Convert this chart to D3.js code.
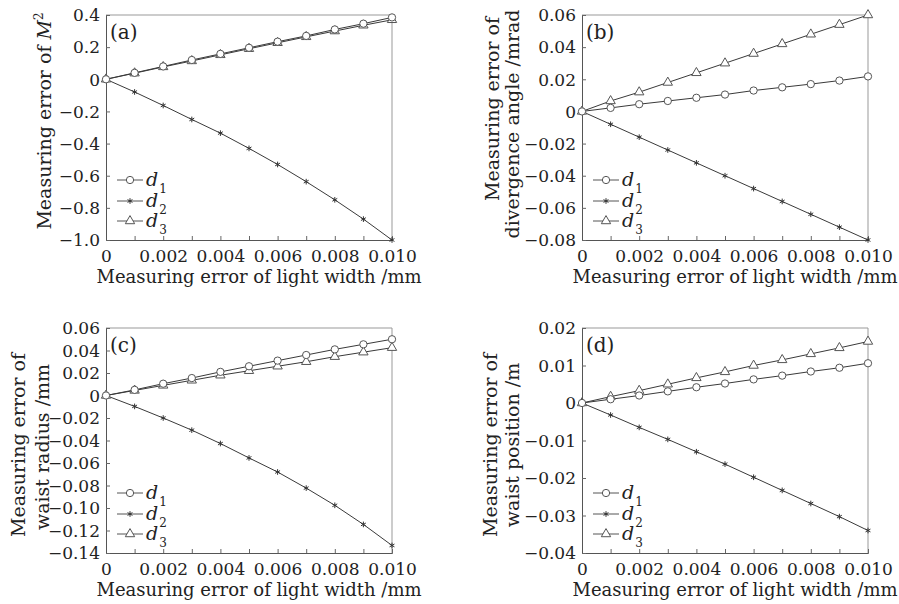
<!DOCTYPE html>
<html>
<head>
<meta charset="utf-8">
<script src="https://cdn.jsdelivr.net/npm/d3@7"></script>
<style>
  body { margin: 0; background: #fff; }
</style>
</head>
<body>
<div id="chart"></div>
<script>
// eje x común
const xVals = [0, 0.001, 0.002, 0.003, 0.004, 0.005, 0.006, 0.007, 0.008, 0.009, 0.010];
const xTickLabels = [0, 0.002, 0.004, 0.006, 0.008, 0.010];

// (a) M^2
const aD1 = [0, 0.040, 0.080, 0.120, 0.158, 0.196, 0.234, 0.270, 0.310, 0.346, 0.385];
const aD2 = [0, -0.079, -0.163, -0.250, -0.335, -0.430, -0.530, -0.637, -0.750, -0.870, -1.0];
const aD3 = [0, 0.038, 0.077, 0.114, 0.152, 0.190, 0.227, 0.264, 0.300, 0.336, 0.370];
const aTicks = [0.4, 0.2, 0, -0.2, -0.4, -0.6, -0.8, -1.0];

// (b) ángulo de divergencia
const bD1 = [0, 0.0022, 0.0045, 0.0065, 0.0085, 0.0105, 0.013, 0.015, 0.017, 0.0192, 0.0218];
const bD2 = [0, -0.008, -0.016, -0.024, -0.032, -0.040, -0.048, -0.056, -0.064, -0.072, -0.080];
const bD3 = [0, 0.0065, 0.012, 0.018, 0.024, 0.030, 0.036, 0.042, 0.048, 0.054, 0.060];
const bTicks = [0.06, 0.04, 0.02, 0, -0.02, -0.04, -0.06, -0.08];

// (c) radio de cintura
const cD1 = [0, 0.005, 0.0105, 0.0155, 0.021, 0.026, 0.031, 0.036, 0.041, 0.0455, 0.050];
const cD2 = [0, -0.0097, -0.020, -0.0308, -0.0427, -0.0555, -0.068, -0.0823, -0.0976, -0.1146, -0.1333];
const cD3 = [0, 0.0045, 0.009, 0.0135, 0.018, 0.022, 0.026, 0.030, 0.0345, 0.0385, 0.0425];
const cTicks = [0.06, 0.04, 0.02, 0, -0.02, -0.04, -0.06, -0.08, -0.10, -0.12, -0.14];

// (d) posición de cintura
const dD1 = [0, 0.0010, 0.0020, 0.0031, 0.0042, 0.0052, 0.0063, 0.0073, 0.0084, 0.0094, 0.0106];
const dD2 = [0, -0.0032, -0.0065, -0.0097, -0.0130, -0.0163, -0.0198, -0.0233, -0.0268, -0.0303, -0.0340];
const dD3 = [0, 0.0017, 0.0033, 0.0050, 0.0067, 0.0083, 0.0100, 0.0115, 0.0131, 0.0147, 0.0164];
const dTicks = [0.02, 0.01, 0, -0.01, -0.02, -0.03, -0.04];

const paneles = [
    { id: "(a)", left: 106, top: 15, d1: aD1, d2: aD2, d3: aD3, ticks: aTicks, fmt: ".1f",
      titulo: [["Measuring error of ", "M2"]], tx: [51], ty: [121] },
    { id: "(b)", left: 582, top: 15, d1: bD1, d2: bD2, d3: bD3, ticks: bTicks, fmt: ".2f",
      titulo: [["Measuring error of"], ["divergence angle /mrad"]], tx: [499, 519], ty: [109, 124] },
    { id: "(c)", left: 106, top: 328, d1: cD1, d2: cD2, d3: cD3, ticks: cTicks, fmt: ".2f",
      titulo: [["Measuring error of"], ["waist radius /mm"]], tx: [25, 49], ty: [445, 447] },
    { id: "(d)", left: 582, top: 328, d1: dD1, d2: dD2, d3: dD3, ticks: dTicks, fmt: ".2f",
      titulo: [["Measuring error of"], ["waist position /m"]], tx: [497, 519], ty: [445, 445] }
];

const W = 286, H = 225;
const FUENTE = "'DejaVu Serif', serif";

const svg = d3.select("#chart").append("svg")
    .attr("width", 899)
    .attr("height", 604)
    .style("font-family", FUENTE);

paneles.forEach(p => dibujarPanel(p));

function dibujarPanel(p) {
    const g = svg.append("g").attr("transform", `translate(${p.left},${p.top})`);

    const x = d3.scaleLinear().domain([0, 0.010]).range([0, W]);
    const y = d3.scaleLinear()
        .domain([d3.min(p.ticks), d3.max(p.ticks)])
        .range([H, 0]);

    const fy = v => v === 0 ? "0" : d3.format(p.fmt)(v);
    const fx = v => v === 0 ? "0" : d3.format(".3f")(v);

    // marco superior y derecho
    g.append("path")
        .attr("d", `M0,0H${W}V${H}`)
        .attr("fill", "none")
        .attr("stroke", "#999")
        .attr("stroke-width", 1);

    // Eje X (ticks hacia dentro cada 0.001)
    const ejeX = g.append("g")
        .attr("transform", `translate(0,${H})`)
        .call(d3.axisBottom(x).tickValues(xVals).tickSize(-4).tickPadding(10)
            .tickFormat(v => xTickLabels.some(t => Math.abs(t - v) < 1e-9) ? fx(v) : ""));
    ejeX.attr("font-family", null);
    ejeX.select(".domain").attr("stroke", "#555");
    ejeX.selectAll(".tick line").attr("stroke", "#666");
    ejeX.selectAll("text").filter(function () { return this.textContent === ""; }).remove();
    ejeX.selectAll("text").attr("font-size", 17).attr("fill", "#222");

    // Eje Y
    const ejeY = g.append("g")
        .call(d3.axisLeft(y).tickValues(p.ticks).tickSize(-4).tickPadding(6).tickFormat(fy));
    ejeY.attr("font-family", null);
    ejeY.select(".domain").attr("stroke", "#555");
    ejeY.selectAll(".tick line").attr("stroke", "#666");
    ejeY.selectAll("text").attr("font-size", 17).attr("fill", "#222").attr("dy", "0.34em");

    // Líneas
    const linea = d3.line().x((d, i) => x(xVals[i])).y(d => y(d));
    const series = [
        { datos: p.d2, simbolo: "asterisk" },
        { datos: p.d3, simbolo: "triangle" },
        { datos: p.d1, simbolo: "circle" }
    ];
    series.forEach(s => {
        g.append("path")
            .datum(s.datos)
            .attr("d", linea)
            .attr("fill", "none")
            .attr("stroke", "#3a3a3a")
            .attr("stroke-width", 1);
    });
    series.forEach(s => {
        g.selectAll(null)
            .data(s.datos)
            .enter().append("path")
            .attr("transform", (d, i) => `translate(${x(xVals[i])},${y(d)})`)
            .call(marcador, s.simbolo);
    });

    // Etiqueta del panel
    g.append("text")
        .attr("x", 4)
        .attr("y", 24)
        .attr("font-size", 20)
        .attr("fill", "#222")
        .text(p.id);

    // Leyenda
    const leyenda = [["1", "circle", -60], ["2", "asterisk", -39], ["3", "triangle", -19]];
    leyenda.forEach(([n, sim, dy]) => {
        const ly = H + dy;
        g.append("line")
            .attr("x1", 11).attr("x2", 37)
            .attr("y1", ly).attr("y2", ly)
            .attr("stroke", "#555");
        g.append("path")
            .attr("transform", `translate(24,${ly})`)
            .call(marcador, sim);
        const t = g.append("text")
            .attr("x", 40)
            .attr("y", ly + 6)
            .attr("font-size", 19)
            .attr("fill", "#222");
        t.append("tspan").attr("font-style", "italic").text("d");
        t.append("tspan").attr("dx", 1).attr("dy", 7).attr("font-size", 12).text(n);
    });

    // Etiqueta de eje X
    g.append("text")
        .attr("x", W / 2 + 10)
        .attr("y", H + 43)
        .attr("text-anchor", "middle")
        .attr("font-size", 18)
        .attr("fill", "#222")
        .text("Measuring error of light width /mm");

    // Etiqueta de eje Y
    p.titulo.forEach((partes, k) => {
        const t = svg.append("text")
            .attr("transform", `translate(${p.tx[k]},${p.ty[k]}) rotate(-90)`)
            .attr("text-anchor", "middle")
            .attr("font-size", 19)
            .attr("fill", "#222");
        t.append("tspan").text(partes[0]);
        if (partes[1]) {
            t.append("tspan").attr("font-style", "italic").text("M");
            t.append("tspan").attr("dy", -8).attr("font-size", 12).text("2");
        }
    });
}

function marcador(sel, tipo) {
    if (tipo === "circle") {
        sel.attr("d", d3.symbol(d3.symbolCircle, 42)())
            .attr("fill", "#fff").attr("stroke", "#555").attr("stroke-width", 1);
    } else if (tipo === "triangle") {
        sel.attr("d", d3.symbol(d3.symbolTriangle, 38)())
            .attr("fill", "#fff").attr("stroke", "#555").attr("stroke-width", 1);
    } else {
        sel.attr("d", d3.symbol(d3.symbolAsterisk, 22)())
            .attr("fill", "none").attr("stroke", "#333").attr("stroke-width", 1);
    }
}
</script>
</body>
</html>
